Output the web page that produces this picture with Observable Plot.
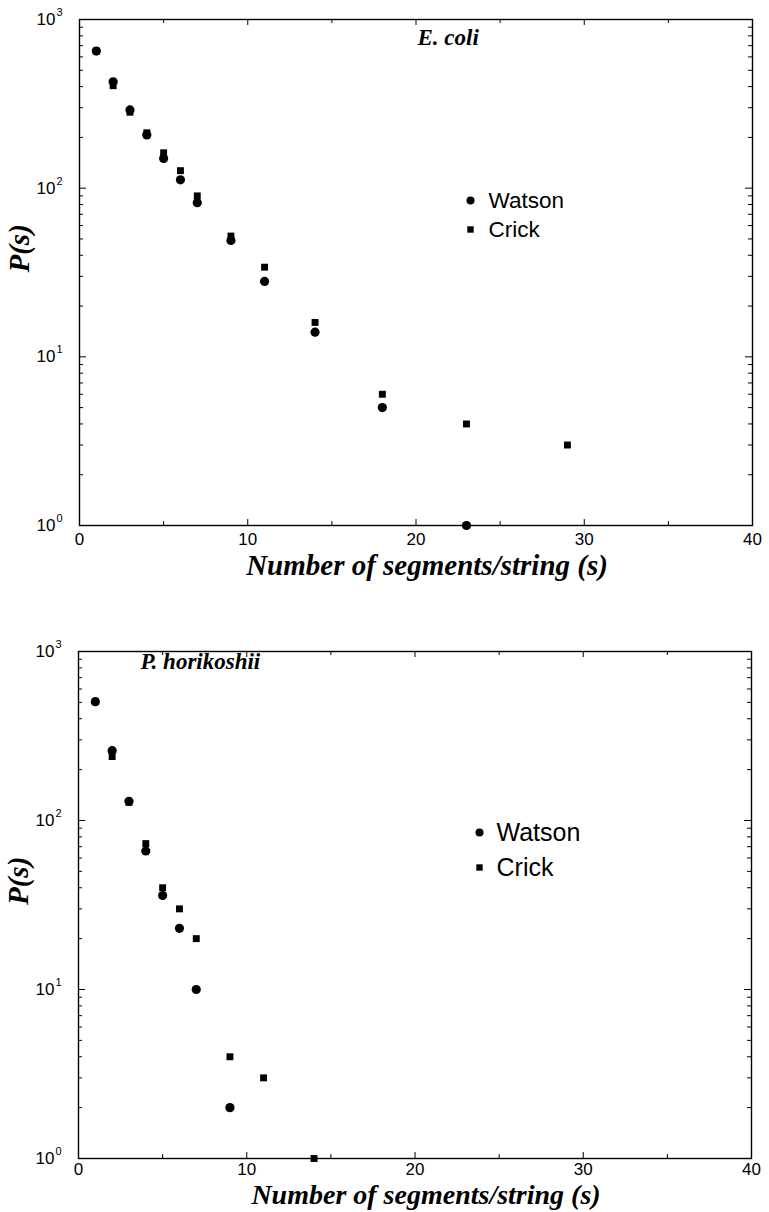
<!DOCTYPE html>
<html><head><meta charset="utf-8">
<script src="https://cdn.jsdelivr.net/npm/d3@7"></script>
<script src="https://cdn.jsdelivr.net/npm/@observablehq/plot@0.6"></script>
<style>body{margin:0;background:#fff} #chart svg{display:block}</style>
</head><body><div id="chart"></div>
<script>
// ---- shared axis data ----
const xTicks = [0, 10, 20, 30, 40];
const xMinorTicks = [5, 15, 25, 35];
const yTicks = [1, 10, 100, 1000];
const yTickBase = "10";
const yTickExponents = ["0", "1", "2", "3"];
const yMinorMultipliers = [2, 3, 4, 5, 6, 7, 8, 9];
const xLabel = "Number of segments/string (s)";
const yLabel = "P(s)";
const seriesNames = ["Watson", "Crick"];

// ---- E. coli ----
const ecoliTitle = "E. coli";
const ecoliWatsonS = [1, 2, 3, 4, 5, 6, 7, 9, 11, 14, 18, 23];
const ecoliWatsonP = [650, 427, 291, 207, 150, 112, 82, 49, 28, 14, 5, 1];
const ecoliCrickS = [1, 2, 3, 4, 5, 6, 7, 9, 11, 14, 18, 23, 29];
const ecoliCrickP = [650, 405, 282, 213, 162, 127, 90, 52, 34, 16, 6, 4, 3];

// ---- P. horikoshii ----
const phTitle = "P. horikoshii";
const phWatsonS = [1, 2, 3, 4, 5, 6, 7, 9];
const phWatsonP = [505, 259, 130, 66, 36, 23, 10, 2];
const phCrickS = [1, 2, 3, 4, 5, 6, 7, 9, 11, 14];
const phCrickP = [505, 239, 128, 73, 40, 30, 20, 4, 3, 1];

const yMinorTicks = yTicks.slice(0, -1).flatMap(d => yMinorMultipliers.map(m => d * m));

const sans = "'Liberation Sans', Arial, Helvetica, sans-serif";
const serif = "'Liberation Serif', 'Times New Roman', serif";

function panel(o) {
  const width = 769;
  const pw = width - o.marginLeft - o.marginRight;
  const ph = o.height - o.marginTop - o.marginBottom;
  const watson = o.watsonS.map((s, i) => ({s, p: o.watsonP[i]}));
  const crick = o.crickS.map((s, i) => ({s, p: o.crickP[i]}));
  const tk = {stroke: "#000", strokeWidth: 1};
  const mid = {lineAnchor: "middle", fill: "#000"};
  const titleFont = {fontWeight: "bold", fontStyle: "italic", fontFamily: serif, ...mid};
  return Plot.plot({
    width, height: o.height,
    marginLeft: o.marginLeft, marginRight: o.marginRight,
    marginTop: o.marginTop, marginBottom: o.marginBottom,
    style: {background: "#fff", fontFamily: sans, color: "#000"},
    x: {domain: [0, 40], axis: null},
    y: {type: "log", domain: [1, 1000], axis: null},
    marks: [
      // inward ticks on all four sides
      Plot.tickY(yTicks, {y: d => d, insetRight: pw - 7, ...tk}),
      Plot.tickY(yMinorTicks, {y: d => d, insetRight: pw - 4, ...tk}),
      Plot.tickY(yTicks, {y: d => d, insetLeft: pw - 7, ...tk}),
      Plot.tickY(yMinorTicks, {y: d => d, insetLeft: pw - 4, ...tk}),
      Plot.tickX(xTicks, {x: d => d, insetTop: ph - 6, ...tk}),
      Plot.tickX(xMinorTicks, {x: d => d, insetTop: ph - 4, ...tk}),
      Plot.tickX(xTicks, {x: d => d, insetBottom: ph - 6, ...tk}),
      Plot.tickX(xMinorTicks, {x: d => d, insetBottom: ph - 4, ...tk}),
      Plot.frame({stroke: "#000", strokeWidth: 1.4}),
      // y tick labels: base + superscript exponent
      Plot.text(yTicks, {y: d => d, text: () => yTickBase, frameAnchor: "left",
        textAnchor: "end", dx: -24, fontSize: 17, fontFamily: sans, ...mid}),
      Plot.text(yTicks, {y: d => d, text: (d, i) => yTickExponents[i], frameAnchor: "left",
        textAnchor: "start", dx: -23, dy: -7, fontSize: 11, fontFamily: sans, ...mid}),
      // x tick labels
      Plot.text(xTicks, {x: d => d, text: d => String(d), frameAnchor: "bottom",
        dy: o.xTickDy, fontSize: 17, fontFamily: sans, ...mid}),
      // axis titles
      Plot.text([yLabel], {text: d => d, frameAnchor: "left", rotate: -90, dx: -60,
        fontSize: 29, ...titleFont}),
      Plot.text([xLabel], {text: d => d, frameAnchor: "bottom", dx: 11, dy: o.xLabelDy,
        fontSize: o.xLabelFont, ...titleFont}),
      // panel title
      Plot.text([o.title], {text: d => d, frameAnchor: "top-left", textAnchor: "start",
        dx: o.titleDx, dy: o.titleDy, fontSize: 23, ...titleFont}),
      // data
      Plot.dot(crick, {x: "s", y: "p", symbol: "square", r: 3.9, fill: "#000"}),
      Plot.dot(watson, {x: "s", y: "p", symbol: "circle", r: 4.6, fill: "#000"}),
      // legend
      Plot.dot([seriesNames[0]], {frameAnchor: "top-left", dx: o.legDx, dy: o.legDy1,
        symbol: "circle", r: 4, fill: "#000"}),
      Plot.dot([seriesNames[1]], {frameAnchor: "top-left", dx: o.legDx, dy: o.legDy2,
        symbol: "square", r: 3.6, fill: "#000"}),
      Plot.text([seriesNames[0]], {text: d => d, frameAnchor: "top-left", textAnchor: "start",
        dx: o.legDx + o.legGap, dy: o.legDy1, fontSize: o.legFont, fontFamily: sans, ...mid}),
      Plot.text([seriesNames[1]], {text: d => d, frameAnchor: "top-left", textAnchor: "start",
        dx: o.legDx + o.legGap, dy: o.legDy2, fontSize: o.legFont, fontFamily: sans, ...mid})
    ]
  });
}

const chart = document.getElementById("chart");
chart.appendChild(panel({
  height: 600, marginTop: 19, marginBottom: 75, marginLeft: 79, marginRight: 17,
  title: ecoliTitle, titleDx: 338, titleDy: 18,
  watsonS: ecoliWatsonS, watsonP: ecoliWatsonP, crickS: ecoliCrickS, crickP: ecoliCrickP,
  legDx: 391, legDy1: 181, legDy2: 210, legGap: 18, legFont: 22.5,
  xTickDy: 14, xLabelDy: 40, xLabelFont: 29
}));
chart.appendChild(panel({
  height: 612, marginTop: 51, marginBottom: 54, marginLeft: 78, marginRight: 18,
  title: phTitle, titleDx: 62, titleDy: 10,
  watsonS: phWatsonS, watsonP: phWatsonP, crickS: phCrickS, crickP: phCrickP,
  legDx: 401, legDy1: 181, legDy2: 216, legGap: 17, legFont: 25,
  xTickDy: 11, xLabelDy: 37, xLabelFont: 28
}));
</script>
</body></html>
